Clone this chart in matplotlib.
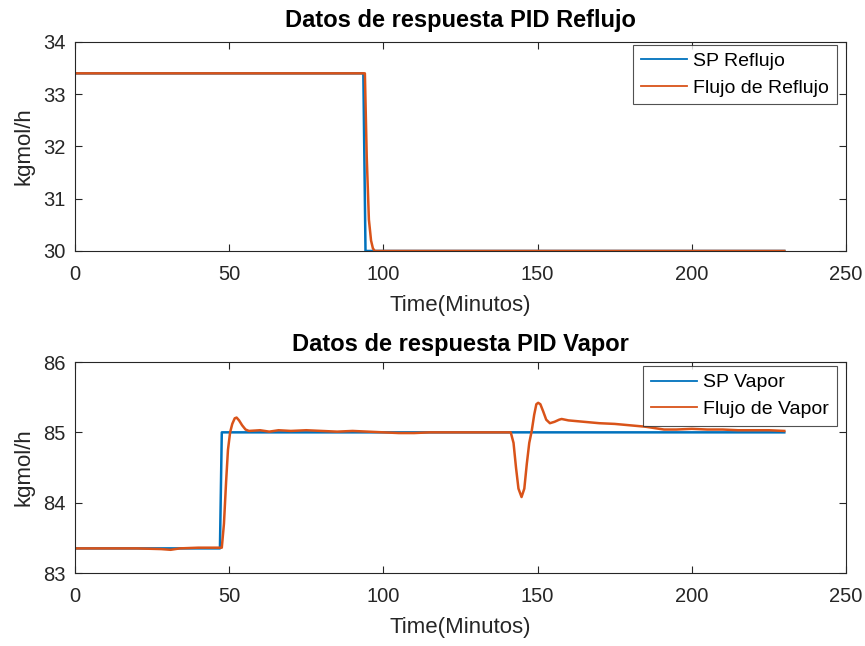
import numpy as np
import matplotlib
matplotlib.use('Agg')
import matplotlib.pyplot as plt

# --- reflux loop (minutes, kgmol/h)
t_sp_ref = [0, 93.5, 94.2, 230]
sp_ref = [33.4, 33.4, 30.0, 30.0]
t_flow_ref = [0, 94.0, 94.6, 95.3, 96.0, 96.6, 97.2, 230]
flow_ref = [33.4, 33.4, 31.8, 30.6, 30.2, 30.05, 30.0, 30.0]

# --- steam loop
t_sp_vap = [0, 47.0, 47.6, 230]
sp_vap = [83.35, 83.35, 85.0, 85.0]
t_flow_vap = [0, 10, 20, 28, 31, 34, 40, 47.6, 48.3, 49.0, 49.6, 50.3, 51.0,
              51.8, 52.4, 53.2, 54.2, 55.3, 56.4, 60, 63, 66, 70, 75, 80, 85,
              90, 95, 100, 105, 110, 115, 120, 125, 130, 135, 141.3, 142.2,
              143.0, 143.8, 144.8, 145.7, 146.5, 147.3, 148.1, 148.9, 149.6,
              150.2, 150.9, 151.8, 152.8, 154.0, 155.5, 157.0, 157.8, 160,
              165, 170, 175, 180, 185, 188, 191, 195, 200, 205, 210, 215, 220,
              225, 230]
flow_vap = [83.35, 83.35, 83.35, 83.34, 83.33, 83.35, 83.36, 83.36, 83.7,
            84.3, 84.75, 85.0, 85.12, 85.2, 85.21, 85.17, 85.1, 85.04, 85.02,
            85.03, 85.01, 85.03, 85.02, 85.03, 85.02, 85.01, 85.02, 85.01,
            85.0, 84.99, 84.99, 85.0, 85.0, 85.0, 85.0, 85.0, 85.0, 84.85,
            84.5, 84.2, 84.08, 84.2, 84.55, 84.85, 85.02, 85.25, 85.4, 85.42,
            85.4, 85.3, 85.18, 85.13, 85.15, 85.18, 85.19, 85.17, 85.15,
            85.13, 85.12, 85.1, 85.08, 85.06, 85.04, 85.04, 85.05, 85.04,
            85.04, 85.03, 85.03, 85.03, 85.02]

blue = '#0072BD'
orange = '#D95319'
dark = '#262626'

plt.rcParams['font.family'] = ['Liberation Sans', 'DejaVu Sans']

fig = plt.figure(figsize=(8.65, 6.46), dpi=100)
ax1 = fig.add_axes([0.0867, 0.6115, 0.8913, 0.3235])
ax2 = fig.add_axes([0.0867, 0.1130, 0.8913, 0.3266])


def style(ax, title, ylim, yticks, title_pad):
    ax.set_xlim(0, 250)
    ax.set_ylim(*ylim)
    ax.set_xticks([0, 50, 100, 150, 200, 250])
    ax.set_yticks(yticks)
    ax.tick_params(direction='in', top=True, right=True, length=5,
                   width=0.8, colors=dark, labelsize=14.5)
    ax.tick_params(axis='x', pad=10)
    ax.tick_params(axis='y', pad=7)
    for s in ax.spines.values():
        s.set_color(dark)
        s.set_linewidth(0.8)
    ax.set_title(title, fontsize=17, fontweight='bold', color='black',
                 pad=title_pad)
    ax.set_xlabel('Time(Minutos)', fontsize=16, color=dark, labelpad=8)
    ax.set_ylabel('kgmol/h', fontsize=16, color=dark, labelpad=6)


ax1.plot(t_sp_ref, sp_ref, color=blue, lw=1.8, label='SP Reflujo')
ax1.plot(t_flow_ref, flow_ref, color=orange, lw=1.8, label='Flujo de Reflujo')
style(ax1, 'Datos de respuesta PID Reflujo', (30, 34), [30, 31, 32, 33, 34], 11)

ax2.plot(t_sp_vap, sp_vap, color=blue, lw=1.8, label='SP Vapor')
ax2.plot(t_flow_vap, flow_vap, color=orange, lw=1.8, label='Flujo de Vapor')
style(ax2, 'Datos de respuesta PID Vapor', (83, 86), [83, 84, 85, 86], 8)

for ax, anchor in ((ax1, (0.988, 0.986)), (ax2, (0.988, 0.981))):
    leg = ax.legend(loc='upper right', bbox_to_anchor=anchor, fontsize=14,
                    frameon=True, fancybox=False, borderaxespad=0,
                    handlelength=2.4, borderpad=0.4, labelspacing=0.45,
                    handletextpad=0.3)
    leg.get_frame().set_edgecolor(dark)
    leg.get_frame().set_linewidth(0.8)
    for h in leg.get_lines():
        h.set_linewidth(1.3)

fig.savefig('out.png', dpi=100)
